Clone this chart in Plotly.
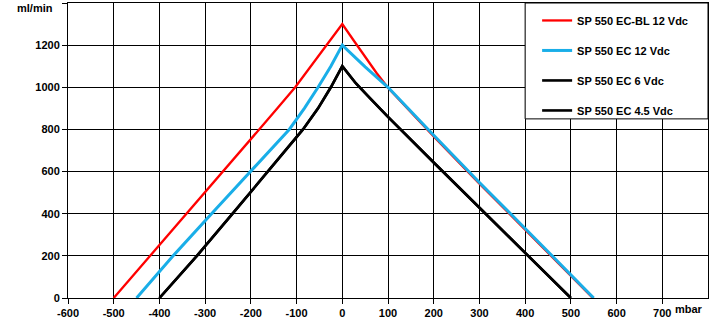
import plotly.graph_objects as go

# Data: pressure in mbar, flow in ml/min
red_x = [-500, -420, -342, -261, -180, -142, -103, -68, -33, 0, 25, 50, 75, 100, 200, 300, 400, 500, 548]
red_y = [0, 200, 400, 600, 800, 900, 1000, 1100, 1200, 1300, 1222, 1143, 1068, 998, 767, 543, 325, 107, 0]

blue_x = [-450, -370, -286, -201, -158, -116, -83, -53, -25, 0, 50, 100, 200, 300, 400, 500, 550]
blue_y = [0, 200, 400, 600, 700, 800, 900, 1000, 1100, 1200, 1097, 1000, 772, 548, 330, 112, 0]

black6_x = [-400, -318, -240, -163, -124, -86, -53, -25, 0, 30, 60, 100, 200, 300, 400, 500]
black6_y = [0, 200, 400, 600, 700, 800, 900, 1000, 1100, 1018, 950, 860, 643, 428, 214, 0]

black45_x = [-400, -318, -240, -163, -124, -86, -53, -25, 0, 30, 60, 100, 200, 300, 400, 500]
black45_y = [0, 200, 400, 600, 700, 800, 900, 1000, 1100, 1018, 950, 860, 643, 428, 214, 0]

names = ["SP 550 EC-BL 12 Vdc", "SP 550 EC 12 Vdc", "SP 550 EC 6 Vdc", "SP 550 EC 4.5 Vdc"]
colors = ["#FF0000", "#19AEE8", "#000000", "#000000"]

x_ticks = [-600, -500, -400, -300, -200, -100, 0, 100, 200, 300, 400, 500, 600, 700]
y_ticks = [0, 200, 400, 600, 800, 1000, 1200]

FONT = "Liberation Sans, Arial, sans-serif"

fig = go.Figure()
series = [(red_x, red_y), (blue_x, blue_y), (black6_x, black6_y), (black45_x, black45_y)]
widths = [2.3, 3, 2.6, 2.6]
for i, ((xs, ys), nm, c, w) in enumerate(zip(series, names, colors, widths)):
    fig.add_trace(go.Scatter(x=xs, y=ys, mode="lines", name=nm,
                             line=dict(color=c, width=w),
                             legendgroup=f"g{i}", hoverinfo="skip"))

fig.update_layout(
    width=710, height=321,
    margin=dict(l=68, r=2, t=3, b=23),
    paper_bgcolor="white", plot_bgcolor="white",
    font=dict(family=FONT, size=11, color="#000000"),
    showlegend=True,
    legend=dict(x=0.733, y=0.99, xanchor="left", yanchor="top",
                bgcolor="rgba(0,0,0,0)", borderwidth=0,
                font=dict(family=FONT, size=11, color="#000000", weight="bold"),
                tracegroupgap=11, itemwidth=30),
    xaxis=dict(range=[-600, 800], tickvals=x_ticks, ticktext=[str(v) for v in x_ticks],
               showgrid=True, gridcolor="#000000", gridwidth=1,
               showline=True, linecolor="#000000", linewidth=1, mirror=True,
               ticks="outside", ticklen=5, tickcolor="#000000",
               tickfont=dict(family=FONT, size=11, color="#000000", weight="bold"),
               zeroline=False, fixedrange=True),
    yaxis=dict(range=[0, 1400], tickvals=y_ticks + [1400], ticktext=[str(v) for v in y_ticks] + [""],
               showgrid=True, gridcolor="#000000", gridwidth=1,
               showline=True, linecolor="#000000", linewidth=1, mirror=True,
               ticks="outside", ticklen=5, tickcolor="#000000",
               tickfont=dict(family=FONT, size=11, color="#000000", weight="bold"),
               zeroline=False, fixedrange=True),
)

# legend box
fig.add_shape(type="rect", xref="x", yref="y", x0=400, x1=800, y0=850, y1=1400,
              fillcolor="white", line=dict(color="#000000", width=1), layer="above")

# axis unit labels
fig.add_annotation(text="<b>mbar</b>", xref="paper", yref="paper", x=1.0, y=0,
                   xanchor="right", yanchor="top", yshift=-3, xshift=-3, showarrow=False,
                   font=dict(family=FONT, size=11, color="#000000"))
fig.add_annotation(text="<b>ml/min</b>", xref="paper", yref="paper", x=0, y=1,
                   xanchor="right", yanchor="middle", xshift=-13, yshift=-5, showarrow=False,
                   font=dict(family=FONT, size=11, color="#000000"))

fig.write_html("out.html", config={"displayModeBar": False, "staticPlot": True},
               post_script="document.body.style.margin='0px';document.body.style.padding='0px';")
